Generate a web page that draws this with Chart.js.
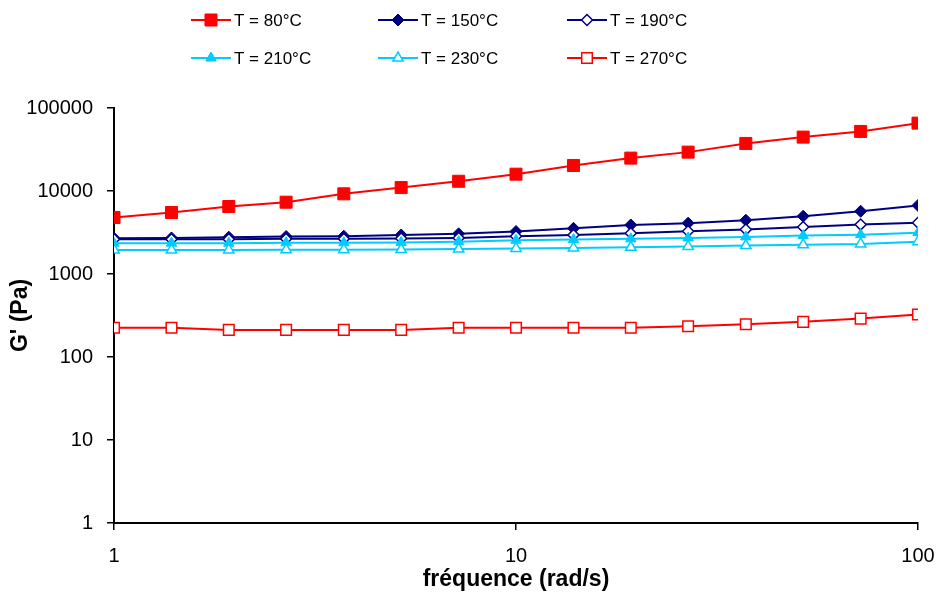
<!DOCTYPE html>
<html>
<head>
<meta charset="utf-8">
<script src="https://cdn.jsdelivr.net/npm/chart.js@4.4.1/dist/chart.umd.min.js"></script>
<style>
html, body { margin: 0; padding: 0; background: #ffffff; }
#wrap { width: 937px; height: 593px; position: relative; }
</style>
</head>
<body>
<div id="wrap"><canvas id="c" width="937" height="593"></canvas></div>
<script>
// ---- data ----
const frequencies = [1, 1.39, 1.93, 2.68, 3.73, 5.18, 7.2, 10, 13.9, 19.3, 26.8, 37.3, 51.8, 72, 100];
const g80  = [4790, 5500, 6500, 7330, 9250, 11000, 13100, 15950, 20300, 24900, 29400, 37400, 44600, 52200, 65700];
const g150 = [2700, 2720, 2780, 2830, 2850, 2950, 3050, 3250, 3550, 3900, 4100, 4450, 4970, 5700, 6700];
const g190 = [2620, 2620, 2620, 2650, 2650, 2680, 2720, 2850, 2950, 3100, 3270, 3430, 3690, 3940, 4150];
const g210 = [2350, 2350, 2350, 2380, 2380, 2400, 2450, 2550, 2600, 2650, 2720, 2800, 2900, 2980, 3150];
const g230 = [1950, 1950, 1950, 1960, 1960, 1970, 2000, 2030, 2060, 2100, 2150, 2200, 2250, 2300, 2450];
const g270 = [225, 225, 212, 212, 212, 212, 225, 225, 225, 225, 235, 248, 265, 290, 325];
const seriesLabels = ['T = 80°C', 'T = 150°C', 'T = 190°C', 'T = 210°C', 'T = 230°C', 'T = 270°C'];
const xTickValues = [1, 10, 100];
const yTickValues = [1, 10, 100, 1000, 10000, 100000];
const xTitle = 'fréquence (rad/s)';
const yTitle = "G' (Pa)";

// ---- styles ----
const RED = '#ff0000', NAVY = '#000080', CYAN = '#00ccff';
const FONT = "'Liberation Sans', Arial, sans-serif";

function pts(arr) { return frequencies.map((f, i) => ({ x: f, y: arr[i] })); }

function mk(label, data, color, style, filled, radius, order) {
  return {
    label: label,
    data: pts(data),
    borderColor: color,
    backgroundColor: color,
    borderWidth: 2,
    pointStyle: style,
    pointRadius: radius,
    pointHoverRadius: radius,
    pointBackgroundColor: filled ? color : '#ffffff',
    pointBorderColor: color,
    pointBorderWidth: filled ? 1 : 1.5,
    tension: 0,
    fill: false,
    order: order
  };
}

const datasets = [
  mk(seriesLabels[0], g80, RED, 'rect', true, 8.5, 5),
  mk(seriesLabels[1], g150, NAVY, 'rectRot', true, 6, 4),
  mk(seriesLabels[2], g190, NAVY, 'rectRot', false, 5.5, 3),
  mk(seriesLabels[3], g210, CYAN, 'triangle', true, 6, 2),
  mk(seriesLabels[4], g230, CYAN, 'triangle', false, 6, 1),
  mk(seriesLabels[5], g270, RED, 'rect', false, 7.5, 0)
];

const gridLegend = {
  id: 'gridLegend',
  afterDraw(chart) {
    const ctx = chart.ctx;
    const cols = [191, 378, 567];
    const rows = [20, 58];
    chart.data.datasets.forEach((ds, i) => {
      const x0 = cols[i % 3];
      const y = rows[Math.floor(i / 3)];
      ctx.save();
      ctx.strokeStyle = ds.borderColor;
      ctx.lineWidth = ds.borderWidth;
      ctx.beginPath();
      ctx.moveTo(x0, y);
      ctx.lineTo(x0 + 40, y);
      ctx.stroke();
      ctx.fillStyle = ds.pointBackgroundColor;
      ctx.strokeStyle = ds.pointBorderColor;
      ctx.lineWidth = ds.pointBorderWidth;
      Chart.helpers.drawPoint(ctx, {
        pointStyle: ds.pointStyle,
        radius: ds.pointRadius,
        rotation: 0,
        borderWidth: ds.pointBorderWidth
      }, x0 + 20, y);
      ctx.fillStyle = '#000000';
      ctx.font = '17px ' + FONT;
      ctx.textAlign = 'left';
      ctx.textBaseline = 'middle';
      ctx.fillText(ds.label, x0 + 43, y + 1);
      ctx.restore();
    });
  }
};

new Chart(document.getElementById('c'), {
  type: 'line',
  data: { datasets: datasets },
  options: {
    responsive: false,
    animation: false,
    devicePixelRatio: 1,
    layout: { padding: { top: 108, right: 19, left: 0, bottom: 0 } },
    plugins: {
      legend: { display: false },
      tooltip: { enabled: false },
      title: { display: false }
    },
    scales: {
      x: {
        type: 'logarithmic',
        min: 1,
        max: 100,
        afterBuildTicks: (s) => { s.ticks = xTickValues.map(v => ({ value: v })); },
        afterFit: (s) => { s.height = 70; s.paddingLeft = 0; s.paddingRight = 0; },
        ticks: {
          callback: (v) => String(v),
          color: '#000000',
          font: { family: FONT, size: 20 },
          padding: 14,
          maxRotation: 0,
          autoSkip: false
        },
        grid: { drawOnChartArea: false, drawTicks: true, tickLength: 7, color: '#000000', lineWidth: 1.5 },
        border: { display: true, color: '#000000', width: 2 },
        title: { display: true, text: xTitle, color: '#000000', font: { family: FONT, size: 23, weight: 'bold' }, padding: { top: 0, bottom: 0 } }
      },
      y: {
        type: 'logarithmic',
        min: 1,
        max: 100000,
        afterBuildTicks: (s) => { s.ticks = yTickValues.map(v => ({ value: v })); },
        afterFit: (s) => { s.width = 114; s.paddingTop = 0; s.paddingBottom = 0; },
        ticks: {
          callback: (v) => String(v),
          color: '#000000',
          font: { family: FONT, size: 20 },
          padding: 14,
          autoSkip: false
        },
        grid: { drawOnChartArea: false, drawTicks: true, tickLength: 7, color: '#000000', lineWidth: 1.5 },
        border: { display: true, color: '#000000', width: 2 },
        title: { display: true, text: yTitle, color: '#000000', font: { family: FONT, size: 23, weight: 'bold' }, padding: { top: 7, bottom: 0 } }
      }
    }
  },
  plugins: [gridLegend]
});
</script>
</body>
</html>
